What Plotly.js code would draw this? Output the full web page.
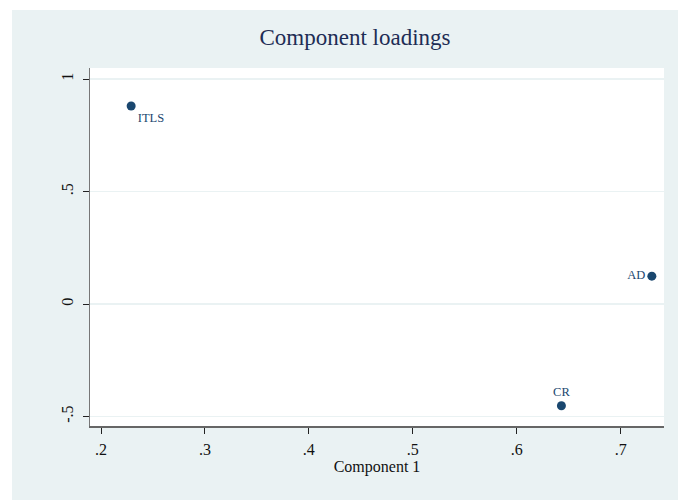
<!DOCTYPE html>
<html>
<head>
<meta charset="utf-8">
<script src="https://cdn.plot.ly/plotly-3.0.1.min.js"></script>
<style>
  html, body { margin: 0; padding: 0; background: #ffffff; width: 678px; height: 500px; overflow: hidden; }
  #chart { position: absolute; left: 12px; top: 10px; width: 666px; height: 490px; }
</style>
</head>
<body>
<div id="chart"></div>
<script>
// Data
const labels = ["ITLS", "AD", "CR"];
const comp1 = [0.229, 0.730, 0.643];
const comp2 = [0.880, 0.124, -0.452];
const labelPositions = ["bottom right", "middle left", "top center"];

const xTickVals = [0.2, 0.3, 0.4, 0.5, 0.6, 0.7];
const xTickText = [".2", ".3", ".4", ".5", ".6", ".7"];
const yTickVals = [-0.5, 0, 0.5, 1];
const yTickText = ["-.5", "0", ".5", "1"];

const navy = "#1a476f";
const serif = "Liberation Serif, Times New Roman, serif";

const trace = {
  type: "scatter",
  mode: "markers+text",
  x: comp1,
  y: comp2,
  text: labels,
  textposition: labelPositions,
  textfont: { family: serif, size: 12.5, color: navy },
  marker: { color: navy, size: 9 },
  hoverinfo: "x+y+text",
  cliponaxis: false
};

const layout = {
  width: 666,
  height: 490,
  margin: { l: 78, r: 14, t: 58, b: 74 },
  paper_bgcolor: "#eaf2f3",
  plot_bgcolor: "#ffffff",
  showlegend: false,
  font: { family: serif, color: "#111111" },
  title: {
    text: "Component loadings",
    font: { family: serif, size: 23, color: "#1e2d55" },
    x: 0.515, xref: "container", xanchor: "center",
    y: 0.945, yref: "container", yanchor: "middle"
  },
  xaxis: {
    range: [0.1894, 0.7417],
    tickvals: xTickVals,
    ticktext: xTickText,
    ticks: "outside",
    ticklen: 6,
    tickcolor: "#222222",
    tickfont: { family: serif, size: 16, color: "#111111" },
    ticklabelstandoff: 2,
    showgrid: false,
    zeroline: false,
    showline: true,
    linecolor: "#666666",
    linewidth: 1.5,
    title: { text: "Component 1", font: { family: serif, size: 16, color: "#111111" }, standoff: 0 }
  },
  yaxis: {
    range: [-0.542, 1.049],
    tickvals: yTickVals,
    ticktext: yTickText,
    tickangle: -90,
    ticks: "outside",
    ticklen: 6,
    tickcolor: "#222222",
    tickfont: { family: serif, size: 16, color: "#111111" },
    ticklabelstandoff: 3,
    showgrid: true,
    gridcolor: "#eaf2f3",
    gridwidth: 1.2,
    zeroline: false,
    showline: true,
    linecolor: "#777777",
    linewidth: 1.5
  }
};

Plotly.newPlot("chart", [trace], layout, { displayModeBar: false, staticPlot: true });
</script>
</body>
</html>
